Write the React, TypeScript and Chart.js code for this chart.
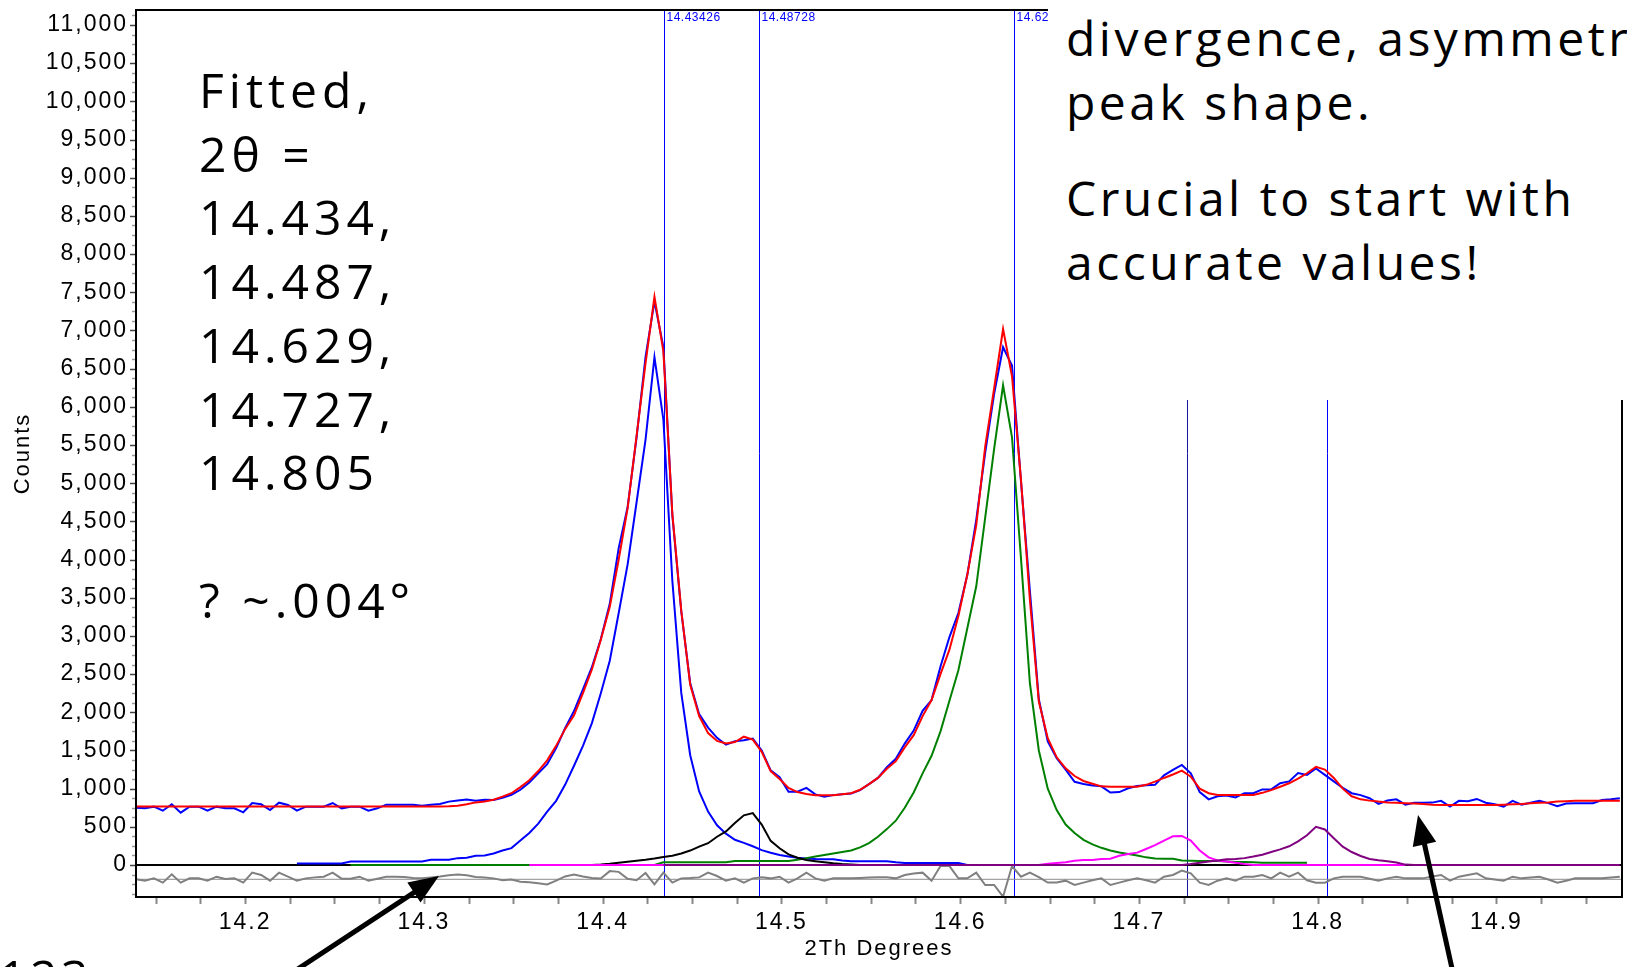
import React, { useEffect, useRef } from "react";
import { Chart, registerables } from "chart.js";

Chart.register(...registerables);

// ---- scan grid (equal-step XRD scan) ----
const X_START = 14.139;
const X_STEP = 0.005;

// observed counts (blue), one value per step, 14.139 .. 14.969
const OBS = [
  750, 742, 764, 711, 795, 685, 764, 764, 711, 764,
  742, 742, 690, 812, 795, 720, 816, 786, 711, 764,
  764, 764, 812, 742, 764, 764, 711, 742, 790, 790,
  790, 790, 775, 790, 800, 830, 845, 858, 840, 853,
  850, 880, 920, 985, 1080, 1200, 1320, 1530, 1790, 2016,
  2300, 2590, 2960, 3420, 4150, 4690, 5600, 6650, 7380, 6780,
  4580, 3320, 2380, 1975, 1800, 1665, 1575, 1620, 1635, 1655,
  1500, 1240, 1150, 960, 960, 1010, 925, 895, 915, 925,
  935, 980, 1060, 1140, 1280, 1390, 1590, 1760, 2020, 2160,
  2600, 2985, 3300, 3800, 4520, 5400, 6170, 6780, 6540, 5030,
  3590, 2170, 1620, 1400, 1250, 1090, 1060, 1040, 1030, 950,
  955, 1005, 1035, 1045, 1050, 1175, 1245, 1310, 1200, 955,
  860, 900, 910, 885, 940, 940, 990, 990, 1070, 1095,
  1205, 1180, 1265, 1180, 1095, 1010, 940, 915, 875, 800,
  845, 860, 790, 815, 815, 817, 840, 765, 840, 835,
  865, 815, 795, 765, 840, 790, 815, 840, 810, 770,
  805, 810, 810, 808, 850, 860, 873,
];

// calculated total profile (red)
const CALC = [
  765, 765, 765, 765, 765, 765, 765, 765, 765, 765,
  765, 765, 765, 765, 765, 765, 765, 765, 765, 765,
  765, 765, 765, 765, 765, 765, 765, 765, 765, 765,
  765, 765, 765, 765, 766, 768, 775, 795, 820, 832,
  855, 895, 940, 1020, 1110, 1230, 1370, 1560, 1779, 1960,
  2250, 2560, 2950, 3380, 4000, 4673, 5620, 6568, 7440, 6726,
  4600, 3330, 2360, 1950, 1727, 1625, 1592, 1610, 1680, 1642,
  1482, 1230, 1125, 1010, 955, 930, 915, 912, 912, 925,
  940, 985, 1060, 1140, 1260, 1360, 1540, 1700, 1950, 2160,
  2500, 2820, 3260, 3800, 4450, 5480, 6240, 7018, 6400, 5050,
  3476, 2140, 1660, 1410, 1266, 1165, 1100, 1065, 1030, 1026,
  1026, 1026, 1026, 1050, 1092, 1140, 1185, 1236, 1157, 1000,
  940, 917, 917, 917, 917, 917, 945, 980, 1025, 1070,
  1130, 1201, 1285, 1250, 1140, 1000, 900, 860, 843, 830,
  820, 815, 810, 805, 800, 790, 786, 786, 786, 786,
  786, 786, 786, 790, 795, 800, 808, 815, 820, 830,
  835, 840, 843, 843, 843, 843, 843,
];

// difference curve (grey), plotted with its offset below zero
const DIFF = [
  -187, -205, -175, -231, -122, -231, -175, -175, -205, -153,
  -183, -175, -231, -100, -131, -205, -100, -153, -205, -175,
  -162, -153, -100, -179, -179, -153, -205, -179, -153, -153,
  -157, -170, -175, -162, -150, -135, -125, -135, -157, -165,
  -175, -200, -190, -220, -225, -240, -255, -205, -150, -125,
  -150, -170, -178, -80, -90, -180, -200, -105, -255, -100,
  -231, -175, -170, -162, -100, -144, -205, -175, -231, -175,
  -162, -175, -153, -231, -175, -100, -175, -205, -175, -175,
  -175, -170, -165, -162, -162, -175, -131, -110, -100, -205,
  -14, -14, -175, -175, -100, -262, -262, -415, -14, -153,
  -100, -160, -230, -230, -205, -262, -231, -200, -175, -262,
  -231, -200, -175, -200, -231, -153, -131, -74, -109, -231,
  -262, -205, -175, -205, -153, -153, -131, -175, -100, -153,
  -100, -200, -231, -231, -175, -153, -153, -153, -180, -205,
  -175, -153, -175, -175, -175, -150, -131, -205, -153, -130,
  -109, -175, -190, -205, -153, -175, -165, -153, -190, -231,
  -205, -175, -175, -175, -175, -165, -153,
];
const DIFF_ZERO = -187;

// fitted single-peak components (start = index into scan grid)
const PEAK1_START = 18; // 14.434 (blue)
const PEAK1 = [
  20, 20, 20, 20, 20, 20,
  45, 45, 45, 45, 45, 45, 45, 45, 45,
  68, 68, 68,
  90, 95, 120, 125,
  150, 189, 221, 320, 420, 542, 700, 840, 1050, 1300,
  1560, 1858, 2250, 2674, 3300, 3937, 4750, 5568, 6650, 5831,
  3726, 2253, 1437, 963, 700, 520, 410, 330, 290, 245,
  195, 160, 130, 110, 95, 85, 78, 75, 75, 60,
  50, 50, 50, 50, 50, 35, 25, 25, 25, 25,
  25, 25, 25, 0,
];
const PEAK2_START = 51; // 14.487 (black)
const PEAK2 = [
  0, 5, 15, 30, 42, 55, 68, 84, 105,
  121, 150, 189, 240, 285, 370, 440, 550, 650, 680,
  530, 316, 220, 140, 95, 65, 50, 35, 22, 12,
  5, 0,
];
const PEAK3_START = 24; // 14.629 (green)
const PEAK3 = [
  0, 0, 0, 0, 0, 0, 0, 0, 0, 0,
  0, 0, 0, 0, 0, 0, 0, 0, 0, 0,
  0, 0, 0, 0, 0, 0, 0, 0, 0, 0,
  0, 0, 0, 0, 0,
  35, 35, 35, 35, 35, 35, 35, 35,
  52, 52, 52, 52, 52, 52, 52,
  70, 90, 110, 130, 150, 170, 190, 230, 286, 370,
  470, 580, 750, 950, 1200, 1430, 1750, 2150, 2550, 3100,
  3650, 4550, 5450, 6281, 5600, 4020, 2380, 1500, 1000, 720,
  530, 420, 330, 270, 225, 190, 165, 145, 125, 100,
  85, 83, 83, 60, 55, 52, 52, 52, 45, 40,
  38, 35, 30, 30, 30, 30, 30, 30,
];
const PEAK4_START = 44; // 14.727 (magenta)
const PEAK4 = [
  0, 0, 0, 0, 0, 0, 0, 0, 0, 0,
  0, 0, 0, 0, 0, 0, 0, 0, 0, 0,
  0, 0, 0, 0, 0, 0, 0, 0, 0, 0,
  0, 0, 0, 0, 0, 0, 0, 0, 0, 0,
  0, 0, 0, 0, 0, 0, 0, 0, 0, 0,
  0, 0, 0, 0, 0, 0, 0, 0,
  15, 25, 35, 55, 66, 66, 80, 83, 120, 145,
  162, 210, 260, 320, 375, 380, 320, 190, 100, 60,
  45, 28, 12,
  0, 0, 0, 0, 0, 0, 0, 0, 0, 0,
  0, 0, 0, 0, 0, 0, 0, 0,
];
const PEAK5_START = 59; // 14.805 (purple)
const PEAK5 = [
  0, 0, 0, 0, 0, 0, 0, 0, 0, 0,
  0, 0, 0, 0, 0, 0, 0, 0, 0, 0,
  0, 0, 0, 0, 0, 0, 0, 0, 0, 0,
  0, 0, 0, 0, 0, 0, 0, 0, 0, 0,
  0, 0, 0, 0, 0, 0, 0, 0, 0, 0,
  0, 0, 0, 0, 0, 0, 0, 0, 0,
  12, 30, 45, 60, 74, 80, 90, 110, 135, 170,
  205, 245, 310, 390, 500, 465, 350, 240, 170, 118,
  78, 62, 50, 33, 5,
  0, 0, 0, 0, 0, 0, 0, 0, 0, 0,
  0, 0, 0, 0, 0, 0, 0, 0, 0, 0,
  0, 0, 0, 0,
];

// peak position markers
const PEAK_POSITIONS = [14.43426, 14.48728, 14.62986, 14.727, 14.805];
const PEAK_LABELS = ["14.43426", "14.48728", "14.62986", "14.72700", "14.80500"];
const PEAK_LINE_COLORS = ["#0000ff", "#0000ff", "#0000ff", "#1414a0", "#0000ff"];

// axes
const X_MIN = 14.139;
const X_MAX = 14.9702;
const Y_MIN = -419;
const Y_MAX = 11196;
const X_TICKS = [14.2, 14.3, 14.4, 14.5, 14.6, 14.7, 14.8, 14.9];
const Y_TICKS = [
  0, 500, 1000, 1500, 2000, 2500, 3000, 3500, 4000, 4500, 5000, 5500,
  6000, 6500, 7000, 7500, 8000, 8500, 9000, 9500, 10000, 10500, 11000,
];

// annotation text
const FIT_TEXT = ["Fitted,", "2θ =", "14.434,", "14.487,", "14.629,", "14.727,", "14.805", "", "? ~.004°"];
const NOTE_1 = ["divergence, asymmetric", "peak shape."];
const NOTE_2 = ["Crucial to start with", "accurate values!"];
const CUT_TEXT = "123";

const AXIS_FONT = '"Liberation Sans", Arial, sans-serif';
const SLIDE_FONT = '"Open Sans", "Noto Sans", sans-serif';

function series(start: number, values: number[]) {
  return values.map((v, k) => ({ x: X_START + (start + k) * X_STEP, y: v }));
}

const overlayPlugin = {
  id: "xrdOverlay",
  beforeDraw(chart: any) {
    chart.ctx.letterSpacing = "2px";
  },
  beforeDatasetsDraw(chart: any) {
    const { ctx, chartArea: a, scales } = chart;
    const x = scales.x;
    ctx.save();
    ctx.letterSpacing = "0.5px";
    PEAK_POSITIONS.forEach((p, k) => {
      const px = Math.round(x.getPixelForValue(p)) + 0.5;
      ctx.strokeStyle = PEAK_LINE_COLORS[k];
      ctx.lineWidth = 1;
      ctx.beginPath();
      ctx.moveTo(px, a.top);
      ctx.lineTo(px, a.bottom);
      ctx.stroke();
      ctx.fillStyle = PEAK_LINE_COLORS[k];
      ctx.font = "12px " + AXIS_FONT;
      ctx.textBaseline = "middle";
      ctx.textAlign = "left";
      ctx.fillText(PEAK_LABELS[k], px + 2, a.top + 8);
    });
    ctx.restore();
  },
  afterDraw(chart: any) {
    const { ctx, chartArea: a, scales } = chart;
    const x = scales.x;
    const y = scales.y;
    ctx.save();
    // y ticks: minor every 125, major every 500
    for (let v = -375; v <= 11125; v += 125) {
      const py = Math.round(y.getPixelForValue(v)) + 0.5;
      const major = v >= 0 && v % 500 === 0;
      ctx.strokeStyle = major ? "#444" : "#999";
      ctx.lineWidth = 1.5;
      ctx.beginPath();
      ctx.moveTo(a.left - (major ? 6 : 4), py);
      ctx.lineTo(a.left, py);
      ctx.stroke();
    }
    // x ticks every 0.025
    for (let k = 0; k <= 40; k++) {
      const v = 14.15 + k * 0.025;
      if (v > X_MAX) break;
      const px = Math.round(x.getPixelForValue(v)) + 0.5;
      ctx.strokeStyle = "#888";
      ctx.lineWidth = 2;
      ctx.beginPath();
      ctx.moveTo(px, a.bottom);
      ctx.lineTo(px, a.bottom + 7);
      ctx.stroke();
    }
    // frame
    ctx.strokeStyle = "#000";
    ctx.lineWidth = 2;
    ctx.strokeRect(a.left, a.top, a.right - a.left, a.bottom - a.top);
    ctx.restore();
  },
};

const ARROWS = [
  { tipX: 439, tipY: 876, tailX: 272, tailY: 986 },
  { tipX: 1418, tipY: 815, tailX: 1457, tailY: 991 },
];

function Arrow({ tipX, tipY, tailX, tailY }: { tipX: number; tipY: number; tailX: number; tailY: number }) {
  const dx = tipX - tailX;
  const dy = tipY - tailY;
  const len = Math.sqrt(dx * dx + dy * dy);
  const ux = dx / len;
  const uy = dy / len;
  const headLen = 30;
  const half = 12;
  const bx = tipX - ux * headLen;
  const by = tipY - uy * headLen;
  const pts = `${tipX},${tipY} ${bx - uy * half},${by + ux * half} ${bx + uy * half},${by - ux * half}`;
  return (
    <g>
      <line x1={tailX} y1={tailY} x2={bx + ux * 4} y2={by + uy * 4} stroke="#000" strokeWidth={5} />
      <polygon points={pts} fill="#000" />
    </g>
  );
}

export default function App() {
  const canvasRef = useRef<HTMLCanvasElement | null>(null);

  useEffect(() => {
    document.body.style.margin = "0";
    document.body.style.overflow = "hidden";
    const canvas = canvasRef.current;
    if (!canvas) return;

    const line = (data: any[], color: string, width: number) => ({
      data,
      borderColor: color,
      backgroundColor: color,
      borderWidth: width,
      pointRadius: 0,
      fill: false,
      tension: 0,
    });

    const datasets = [
      line(series(0, CALC), "#ff0000", 2),
      line(series(0, OBS), "#0000ff", 2),
      line(series(PEAK5_START, PEAK5), "#800080", 2),
      line(series(PEAK4_START, PEAK4), "#ff00ff", 2),
      line(series(PEAK2_START, PEAK2), "#000000", 2),
      line(series(PEAK3_START, PEAK3), "#008000", 2),
      line(series(PEAK1_START, PEAK1), "#0000ff", 2),
      line(series(0, DIFF), "#808080", 2),
      line([{ x: X_MIN, y: DIFF_ZERO }, { x: X_MAX, y: DIFF_ZERO }], "#8c8c8c", 1),
      line([{ x: X_MIN, y: 0 }, { x: X_MAX, y: 0 }], "#000000", 2),
    ];

    const chart = new Chart(canvas, {
      type: "line",
      data: { datasets } as any,
      options: {
        animation: false,
        responsive: false,
        events: [],
        layout: { padding: { top: 10, right: 5, left: 0, bottom: 0 } },
        plugins: { legend: { display: false }, tooltip: { enabled: false } },
        scales: {
          x: {
            type: "linear",
            min: X_MIN,
            max: X_MAX,
            afterBuildTicks: (s: any) => {
              s.ticks = X_TICKS.map((v) => ({ value: v }));
            },
            afterFit: (s: any) => {
              s.height = 70;
              s.paddingLeft = 0;
              s.paddingRight = 0;
            },
            grid: { display: false, drawTicks: false },
            border: { display: false },
            ticks: {
              autoSkip: false,
              maxRotation: 0,
              padding: 12,
              color: "#000",
              font: { family: AXIS_FONT, size: 23 },
              callback: (v: any) => Number(v).toFixed(1),
            },
            title: {
              display: true,
              text: "2Th Degrees",
              color: "#000",
              font: { family: AXIS_FONT, size: 22 },
              padding: { top: 0, bottom: 5 },
            },
          },
          y: {
            type: "linear",
            min: Y_MIN,
            max: Y_MAX,
            afterBuildTicks: (s: any) => {
              s.ticks = Y_TICKS.map((v) => ({ value: v }));
            },
            afterFit: (s: any) => {
              s.width = 136;
              s.paddingTop = 0;
              s.paddingBottom = 0;
            },
            grid: { display: false, drawTicks: false },
            border: { display: false },
            ticks: {
              autoSkip: false,
              padding: 8,
              color: "#000",
              font: { family: AXIS_FONT, size: 23 },
              callback: (v: any) => Number(v).toLocaleString("en-US"),
            },
            title: {
              display: true,
              text: "Counts",
              color: "#000",
              font: { family: AXIS_FONT, size: 22 },
              padding: { top: 10, bottom: 0 },
            },
          },
        },
      } as any,
      plugins: [overlayPlugin as any],
    });

    return () => {
      chart.destroy();
    };
  }, []);

  const slideText: React.CSSProperties = {
    position: "absolute",
    fontFamily: SLIDE_FONT,
    fontSize: 48,
    lineHeight: "63.7px",
    letterSpacing: "3.5px",
    color: "#000",
    whiteSpace: "pre",
    margin: 0,
  };

  return (
    <div style={{ position: "relative", width: 1627, height: 967, overflow: "hidden", background: "#fff" }}>
      <canvas
        ref={canvasRef}
        width={1627}
        height={967}
        style={{ position: "absolute", left: 0, top: 0, width: 1627, height: 967 }}
      />
      <div style={{ position: "absolute", left: 1048, top: 0, width: 600, height: 400, background: "#fff" }} />
      <div style={{ ...slideText, left: 199, top: 58, letterSpacing: "5px" }}>
        {FIT_TEXT.map((t, k) => (
          <div key={k}>{t === "" ? "\u00a0" : t}</div>
        ))}
      </div>
      <div style={{ ...slideText, left: 1066, top: 6 }}>
        {NOTE_1.map((t, k) => (
          <div key={k}>{t}</div>
        ))}
      </div>
      <div style={{ ...slideText, left: 1066, top: 166 }}>
        {NOTE_2.map((t, k) => (
          <div key={k}>{t}</div>
        ))}
      </div>
      <div style={{ ...slideText, left: -1, top: 945 }}>{CUT_TEXT}</div>
      <svg
        width={1627}
        height={967}
        style={{ position: "absolute", left: 0, top: 0, pointerEvents: "none" }}
      >
        {ARROWS.map((a, k) => (
          <Arrow key={k} {...a} />
        ))}
      </svg>
    </div>
  );
}
